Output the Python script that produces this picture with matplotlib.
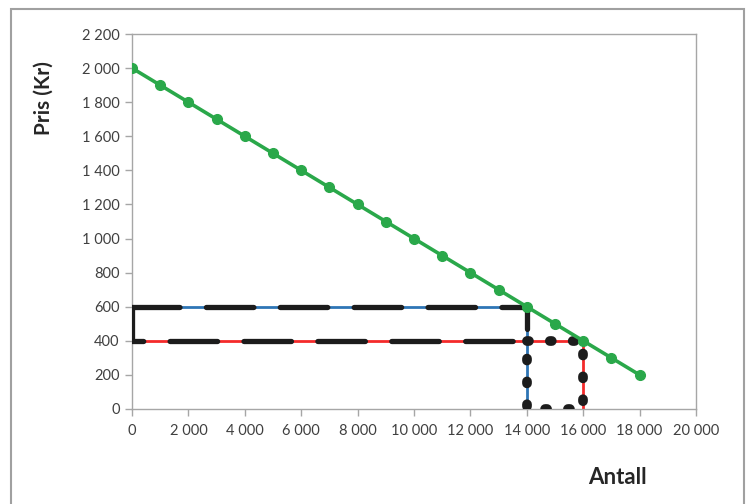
import matplotlib.pyplot as plt
import numpy as np
from matplotlib.patches import Rectangle
from matplotlib.ticker import FuncFormatter

# ---------------------------- data ----------------------------
# demand line: price falls 100 kr for every 1000 units
antall = [0, 1000, 2000, 3000, 4000, 5000, 6000, 7000, 8000, 9000,
          10000, 11000, 12000, 13000, 14000, 15000, 16000, 17000, 18000]
pris = [2000, 1900, 1800, 1700, 1600, 1500, 1400, 1300, 1200, 1100,
        1000, 900, 800, 700, 600, 500, 400, 300, 200]

# price 600 -> 14000 units sold
blue_x = [0, 14000, 14000]
blue_y = [600, 600, 0]

# price 400 -> 16000 units sold
red_x = [0, 16000, 16000]
red_y = [400, 400, 0]

# area lost on price cut (dashed) and area gained on extra volume (dotted)
dash_x = [0, 14000, 14000, 0, 0]
dash_y = [600, 600, 400, 400, 600]
dot_x = [14000, 16000, 16000, 14000, 14000]
dot_y = [400, 400, 0, 0, 400]

x_ticks = np.arange(0, 20001, 2000)
y_ticks = np.arange(0, 2201, 200)

# ---------------------------- plot ----------------------------
plt.rcParams['font.family'] = ['Lato', 'DejaVu Sans']

fig = plt.figure(figsize=(7.46, 5.04), dpi=100)
ax = fig.add_axes([132 / 746, 1 - 409 / 504, (696 - 132) / 746, (409 - 34) / 504])

green = '#2aa84a'
blue = '#2e75b6'
red = '#f42a2a'
black = '#1c1c1c'

ax.plot(blue_x, blue_y, color=blue, lw=2, zorder=2)
ax.plot(red_x, red_y, color=red, lw=2, zorder=2)
ax.plot(dash_x, dash_y, color=black, lw=3.8, linestyle=(0, (9.0, 5.0)),
        dash_capstyle='round', solid_joinstyle='miter', zorder=3)
ax.plot(dot_x, dot_y, color=black, lw=7, linestyle=(0, (0.2, 2.15)),
        dash_capstyle='round', zorder=3)
ax.plot(antall, pris, color=green, lw=2.6, marker='o', markersize=7, zorder=4)

ax.set_xlim(0, 20000)
ax.set_ylim(0, 2200)
ax.set_xticks(x_ticks)
ax.set_yticks(y_ticks)

fmt = FuncFormatter(lambda v, p: f"{int(v):,}".replace(",", " "))
ax.xaxis.set_major_formatter(fmt)
ax.yaxis.set_major_formatter(fmt)

for s in ax.spines.values():
    s.set_color('#a6a6a6')
    s.set_linewidth(1)
ax.tick_params(axis='both', direction='out', length=5, width=1, color='#a6a6a6',
               labelsize=10.5, labelcolor='#404040')
ax.tick_params(axis='y', pad=4)
ax.tick_params(axis='x', pad=6)

fig.text(44 / 746, 1 - 98 / 504, 'Pris (Kr)', rotation=90, ha='center', va='center',
         fontsize=15, fontweight='bold', color='#262626')
fig.text(617 / 746, 1 - 477 / 504, 'Antall', ha='center', va='center',
         fontsize=16, fontweight='bold', color='#262626')

# chart border
fig.patches.append(Rectangle((10.5 / 746, -0.1), (744 - 10.5) / 746, 1.1 - 9 / 504,
                             transform=fig.transFigure, fill=False,
                             edgecolor='#a0a0a0', lw=1.5))

fig.savefig('out.png', dpi=100)
